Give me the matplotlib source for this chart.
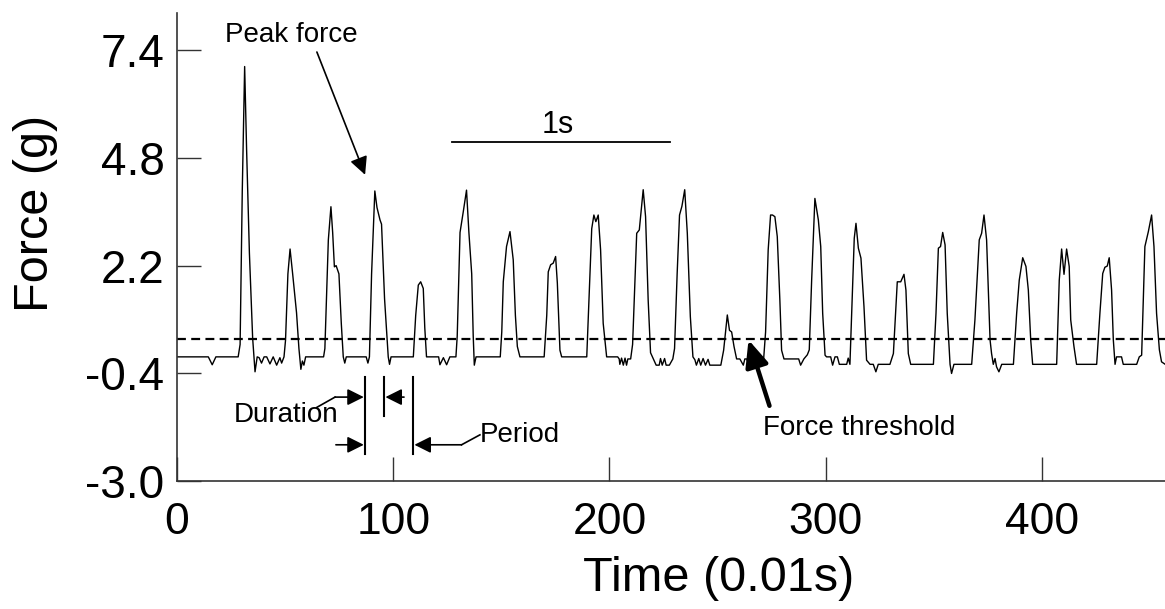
import numpy as np
import matplotlib
matplotlib.use("Agg")
import matplotlib.pyplot as plt

plt.rcParams['font.family'] = ['Liberation Sans', 'DejaVu Sans']

# force trace (time in 0.01 s, force in g)
time_pts = [
    0, 14.5, 16.3, 18, 28.3, 29.2, 30.2, 31.3, 32.2, 33.5, 35, 36.1, 37.1, 38, 39.1, 40.3, 41.5, 43.0, 44.5, 46.1, 47.6, 48.4, 49.5,
    50.2, 51.3, 52.3, 53.5, 55.3, 56.4, 57.3, 58.0, 58.7, 59.5, 67.8,
    68.4, 70.0, 71.2, 72.0, 72.8, 73.6, 74.9, 76.0, 76.9, 77.6, 78.3, 87.5, 88.3, 89.0,
    90.0, 91.5, 92.5, 93.9, 94.6, 96.0, 97.7, 98.3, 99.0, 109.3,
    110.4, 111.6, 112.7, 113.9, 114.6, 115.4, 121.0, 121.6, 123.2, 124.7, 126.2, 129.0,
    129.6, 130.9, 132.4, 133.9, 135.0, 136.3, 137.0, 137.5, 138.3, 149.5,
    150.2, 150.9, 152.4, 154.0, 155.5, 156.5, 157.4, 158.6, 169.8,
    171.0, 171.7, 172.8, 174.0, 175.1, 175.9, 177.1, 177.9, 189.5,
    190.6, 191.8, 192.8, 193.7, 194.8, 195.9, 197.1, 198.7, 203.8, 204.5, 204.8, 205.6, 206.4, 207.2, 207.9, 208.5, 209.8,
    210.7, 212.6, 213.8, 215.6, 216.7, 217.9, 219.0, 220.3, 221.6, 223.0, 223.6, 224.4, 225.5, 226.2, 227.7, 229.3,
    230.1, 231.3, 232.4, 233.5, 234.8, 236.0, 237.4, 238.6, 239.5, 240.2, 241.3, 242.2, 243.3, 244.4, 245.6, 246.4, 251.5,
    252.8, 254.5, 255.5, 256.5, 257.6, 258.8, 260.3, 261.9, 262.6, 263.5, 264.2, 265.7, 268.8, 270.3, 271.3,
    272.2, 273.4, 274.5, 275.4, 276.5, 277.6, 278.8, 279.6, 280.7, 287.5, 288.4, 289.9, 291.5, 292.4,
    293.5, 295.0, 296.6, 297.7, 298.6, 299.7, 300.4, 302.3, 303.2, 304.3, 305.4, 306.3, 309.7, 310.4, 311.2,
    312.0, 313.2, 314.0, 315.1, 316.3, 317.7, 318.9, 320.5, 322.0, 323.2, 324.3, 329.7,
    331.3, 333.1, 334.7, 336.2, 337.1, 338.2, 339.3, 349.8,
    351.0, 352.1, 353.1, 354.1, 355.2, 356.2, 357.5, 358.2, 359.3, 367.5,
    369.0, 371.0, 372.1, 373.2, 374.4, 376.0, 376.7, 377.5, 378.3, 379.0, 380.1, 381.4, 386.8,
    388.3, 389.5, 391.1, 392.6, 393.7, 394.8, 395.7, 406.8,
    408.0, 409.1, 410.2, 411.4, 412.6, 413.3, 414.8, 416.0, 425.3,
    426.8, 428.1, 429.1, 430.2, 431.1, 432.2, 433.0, 433.8, 434.5, 436.8, 437.6, 443.8, 445.0, 446.1,
    447.6, 449.2, 450.7, 451.8, 453.0, 454.3, 455.3, 457.0,
]
force_pts = [
    0.0, 0.0, -0.19, 0.0, 0.0, 0.3, 4.0, 7.0, 5.0, 2.5, 0.45, -0.36, 0.0, -0.02, -0.15, 0.0, 0.0, -0.17, 0.0, -0.2, -0.02, -0.15, 0.0,
    0.4, 2.0, 2.6, 2.0, 1.06, 0.2, -0.3, -0.1, -0.2, 0.0, 0.0,
    0.2, 2.82, 3.62, 3.0, 2.17, 2.2, 2.0, 0.8, 0.0, -0.15, 0.0, 0.0, -0.15, 0.0,
    2.0, 4.0, 3.6, 3.3, 3.2, 1.4, 0.0, -0.18, 0.0, 0.0,
    1.0, 1.73, 1.81, 1.65, 0.7, 0.0, 0.0, -0.19, -0.02, -0.19, 0.0, 0.0,
    0.5, 3.0, 3.5, 4.02, 3.0, 2.0, 0.5, -0.2, 0.0, 0.0,
    0.6, 1.81, 2.66, 3.02, 2.34, 1.0, 0.25, 0.0, 0.0,
    1.0, 2.05, 2.22, 2.26, 2.42, 1.78, 0.16, 0.0, 0.0,
    1.5, 3.09, 3.42, 3.26, 3.42, 2.58, 0.81, 0.0, 0.0, -0.05, -0.18, -0.03, -0.2, -0.03, -0.2, -0.05, -0.05,
    0.3, 2.98, 3.06, 4.03, 3.38, 1.37, 0.1, -0.05, -0.2, -0.2, -0.04, -0.2, -0.04, -0.2, -0.2, -0.05,
    0.2, 2.0, 3.42, 3.63, 4.03, 2.98, 0.97, 0.0, -0.07, -0.2, -0.04, -0.2, -0.04, -0.2, -0.06, -0.2, -0.2,
    0.16, 1.01, 0.64, 0.6, 0.25, -0.05, -0.05, -0.2, -0.05, -0.05, -0.15, -0.05, -0.05, -0.2, -0.05,
    0.6, 2.58, 3.42, 3.42, 3.38, 2.9, 1.37, 0.16, -0.05, -0.05, -0.2, -0.05, 0.05, 0.17,
    1.85, 3.82, 3.3, 2.66, 1.05, 0.04, 0.0, 0.0, -0.2, 0.0, 0.0, -0.18, -0.18, -0.03, -0.18,
    1.05, 2.86, 3.22, 2.62, 2.38, 1.21, -0.08, -0.18, -0.18, -0.36, -0.18, -0.18,
    0.08, 1.81, 1.81, 1.99, 1.61, 0.08, -0.18, -0.18,
    1.05, 2.62, 2.66, 3.0, 2.7, 1.05, -0.18, -0.4, -0.18, -0.18,
    0.89, 2.82, 2.98, 3.42, 2.82, 0.41, 0.08, -0.18, -0.04, -0.24, -0.36, -0.18, -0.18,
    1.05, 1.85, 2.39, 2.18, 1.61, 0.41, -0.18, -0.18,
    1.85, 2.6, 1.99, 2.6, 2.18, 0.89, 0.25, -0.18, -0.18,
    1.05, 2.01, 2.16, 2.19, 2.39, 1.61, 0.41, -0.18, 0.0, 0.0, -0.18, -0.18, 0.0, 0.04,
    2.66, 3.02, 3.42, 2.66, 1.05, 0.17, -0.12, -0.18,
]

threshold = 0.43
xticks = [0, 100, 200, 300, 400]
yticks = [7.4, 4.8, 2.2, -0.4, -3.0]

fig = plt.figure(figsize=(11.65, 6.09), dpi=100)
ax = fig.add_axes([0.1519, 0.2097, 0.8481, 0.7689])

ax.plot(time_pts, force_pts, color='black', lw=1.0)
ax.axhline(threshold, color='black', lw=1.6, linestyle=(0, (4, 2.4)))

ax.set_xlim(0, 456.9)
ax.set_ylim(-3.0, 8.29)
ax.set_xticks(xticks)
ax.set_yticks(yticks)
ax.set_yticklabels([f'{v:.1f}' for v in yticks])
ax.tick_params(direction='in', length=17, width=1.0, color='#333333')
ax.tick_params(axis='x', labelsize=32, pad=15)
ax.tick_params(axis='y', labelsize=33, pad=9)
for s in ['top', 'right']:
    ax.spines[s].set_visible(False)
for s in ['left', 'bottom']:
    ax.spines[s].set_color('#333333')
    ax.spines[s].set_linewidth(1.2)

ax.set_xlabel('Time (0.01s)', fontsize=35, va='center')
ax.xaxis.set_label_coords(0.548, -0.208)
ax.set_ylabel('Force (g)', fontsize=35, va='center')
ax.yaxis.set_label_coords(-0.143, 0.573)

# peak force
ax.text(53, 7.76, 'Peak force', fontsize=20, ha='center', va='center')
ax.annotate('', xy=(87, 4.39), xytext=(64.7, 7.35),
            arrowprops=dict(arrowstyle='-|>,head_length=0.9,head_width=0.45',
                            mutation_scale=12, lw=1.2, color='black',
                            shrinkA=0, shrinkB=0))

# 1 s scale bar
ax.plot([127, 228], [5.18, 5.18], color='black', lw=1.3)
ax.text(176.2, 5.59, '1s', fontsize=22, ha='center', va='center')

# duration / period markers
ax.plot([86.9, 86.9], [-0.49, -2.35], color='black', lw=1.5)
ax.plot([95.9, 95.9], [-0.49, -1.42], color='black', lw=1.5)
ax.plot([109.3, 109.3], [-0.49, -2.35], color='black', lw=1.5)

arrow_kw = dict(arrowstyle='-|>,head_length=1.0,head_width=0.5',
                mutation_scale=10, lw=1.2, color='black', shrinkA=0, shrinkB=0)
ax.plot([64.6, 73.1], [-1.22, -0.97], color='black', lw=1.2)
ax.annotate('', xy=(86.4, -0.97), xytext=(73.1, -0.97), arrowprops=arrow_kw)
ax.annotate('', xy=(96.4, -0.97), xytext=(105, -0.97), arrowprops=arrow_kw)
ax.annotate('', xy=(86.4, -2.12), xytext=(73.5, -2.12), arrowprops=arrow_kw)
ax.annotate('', xy=(109.8, -2.12), xytext=(131.6, -2.12), arrowprops=arrow_kw)
ax.plot([131.6, 140.1], [-2.12, -1.88], color='black', lw=1.2)
ax.text(50.3, -1.40, 'Duration', fontsize=20, ha='center', va='center')
ax.text(140.1, -1.88, 'Period', fontsize=20, ha='left', va='center')

# force threshold
ax.annotate('', xy=(264.3, 0.41), xytext=(274, -1.18),
            arrowprops=dict(arrowstyle='-|>,head_length=0.8,head_width=0.35',
                            mutation_scale=20, lw=3.2, color='black',
                            shrinkA=0, shrinkB=0))
ax.text(271, -1.71, 'Force threshold', fontsize=20, ha='left', va='center')

fig.savefig('out.png', dpi=100)
